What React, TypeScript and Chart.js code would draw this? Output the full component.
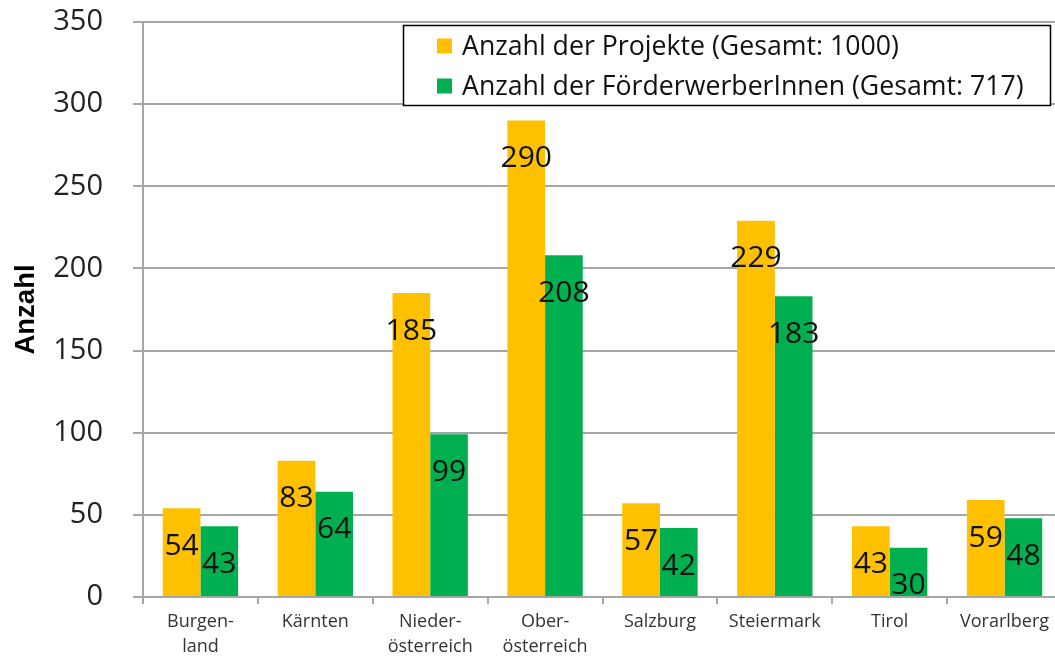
import React, { useEffect, useRef } from "react";
import { Chart, registerables } from "chart.js";

Chart.register(...registerables);

const categories: string[][] = [
  ["Burgen-", "land"],
  ["Kärnten"],
  ["Nieder-", "österreich"],
  ["Ober-", "österreich"],
  ["Salzburg"],
  ["Steiermark"],
  ["Tirol"],
  ["Vorarlberg"],
];
const projekte = [54, 83, 185, 290, 57, 229, 43, 59];
const foerderwerber = [43, 64, 99, 208, 42, 183, 30, 48];
const seriesLabels = [
  "Anzahl der Projekte (Gesamt: 1000)",
  "Anzahl der FörderwerberInnen (Gesamt: 717)",
];
const seriesColors = ["#FFC000", "#00B050"];
const yMin = 0;
const yMax = 350;
const yStep = 50;
const yTitle = "Anzahl";

const FONT = "'Open Sans', sans-serif";

const dataLabelPlugin = {
  id: "dataLabelsInside",
  afterDatasetsDraw(chart: any) {
    const ctx = chart.ctx;
    ctx.save();
    ctx.font = `30px ${FONT}`;
    ctx.fillStyle = "#111";
    ctx.textAlign = "center";
    ctx.textBaseline = "middle";
    chart.data.datasets.forEach((ds: any, di: number) => {
      const meta = chart.getDatasetMeta(di);
      meta.data.forEach((el: any, i: number) => {
        ctx.fillText(String(ds.data[i]), el.x, el.y + 38);
      });
    });
    ctx.restore();
  },
};

const boxLegendPlugin = {
  id: "boxLegend",
  afterDraw(chart: any) {
    const ctx = chart.ctx;
    const left = 403;
    const top = 25;
    const right = 1050;
    const bottom = 105;
    ctx.save();
    ctx.fillStyle = "#fff";
    ctx.fillRect(left, top, right - left, bottom - top);
    ctx.strokeStyle = "#000";
    ctx.lineWidth = 1.5;
    ctx.strokeRect(left + 0.5, top + 0.5, right - left, bottom - top);
    ctx.font = `26.7px ${FONT}`;
    ctx.textBaseline = "middle";
    ctx.textAlign = "left";
    const rows = [46, 86];
    chart.data.datasets.forEach((ds: any, i: number) => {
      const cy = rows[i];
      ctx.fillStyle = ds.backgroundColor;
      ctx.fillRect(437, cy - 7.5, 15, 15);
      ctx.fillStyle = "#111";
      ctx.fillText(ds.label, 462, cy + 1);
    });
    ctx.restore();
  },
};

export default function App() {
  const ref = useRef<HTMLCanvasElement | null>(null);

  useEffect(() => {
    if (!ref.current) return;
    const chart = new Chart(ref.current, {
      type: "bar",
      data: {
        labels: categories,
        datasets: [
          {
            label: seriesLabels[0],
            data: projekte,
            backgroundColor: seriesColors[0],
            barPercentage: 1,
            categoryPercentage: 0.656,
          },
          {
            label: seriesLabels[1],
            data: foerderwerber,
            backgroundColor: seriesColors[1],
            barPercentage: 1,
            categoryPercentage: 0.656,
          },
        ],
      },
      options: {
        responsive: false,
        animation: false,
        layout: { padding: { top: 22, left: 0, right: 0, bottom: 0 } },
        plugins: {
          legend: { display: false },
          tooltip: { enabled: false },
        },
        scales: {
          x: {
            offset: true,
            grid: {
              display: true,
              offset: true,
              drawOnChartArea: false,
              drawTicks: true,
              tickLength: 7,
              color: "#a6a6a6",
              lineWidth: 2,
            },
            border: { display: true, color: "#a6a6a6", width: 2 },
            ticks: {
              font: { family: FONT, size: 18, lineHeight: 25.5 / 18 },
              color: "#333",
              padding: 5,
              maxRotation: 0,
              autoSkip: false,
            },
            afterFit(scale: any) {
              scale.height = 60;
              scale.paddingLeft = 0;
              scale.paddingRight = 0;
            },
          },
          y: {
            min: yMin,
            max: yMax,
            ticks: {
              stepSize: yStep,
              font: { family: FONT, size: 29 },
              color: "#222",
              padding: 30,
            },
            grid: {
              color: "#a6a6a6",
              lineWidth: 2,
              tickLength: 10,
            },
            border: { display: true, color: "#a6a6a6", width: 2 },
            title: {
              display: true,
              text: yTitle,
              font: { family: "'Liberation Sans', Arial, sans-serif", size: 27.5, weight: "bold" },
              color: "#000",
              padding: { top: 10, bottom: 0 },
            },
            afterFit(scale: any) {
              scale.width = 143;
              scale.paddingTop = 0;
              scale.paddingBottom = 0;
            },
          },
        },
      },
      plugins: [dataLabelPlugin, boxLegendPlugin],
    } as any);
    return () => chart.destroy();
  }, []);

  return (
    <div
      style={{
        position: "absolute",
        left: 0,
        top: 0,
        width: 1055,
        height: 657,
        overflow: "hidden",
        background: "#fff",
      }}
    >
      <canvas ref={ref} width={1062} height={657} style={{ display: "block" }} />
    </div>
  );
}
